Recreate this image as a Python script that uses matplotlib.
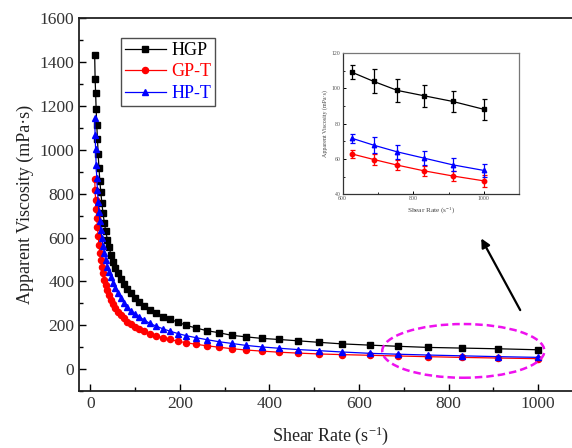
import matplotlib
matplotlib.use("Agg")
import matplotlib.pyplot as plt
from matplotlib.patches import Ellipse
from matplotlib.ticker import MultipleLocator

plt.rcParams['font.family'] = ['Liberation Serif', 'DejaVu Serif']
plt.rcParams['mathtext.fontset'] = 'custom'
plt.rcParams['mathtext.rm'] = 'Liberation Serif'
plt.rcParams['mathtext.it'] = 'Liberation Serif:italic'

# ---- data ----
shear_rate = [10, 11, 12.1, 13.3, 14.7, 16.2, 17.8, 19.6, 21.5, 23.7, 26.1, 28.7,
              31.6, 34.8, 38.3, 42.2, 46.4, 51.1, 56.2, 61.9, 68.1, 75, 82.5, 90.9,
              100, 110, 121, 133, 147, 162, 178, 196, 215, 237, 261, 287, 316, 348,
              383, 422, 464, 511, 562, 625, 688, 755, 830, 911, 1000]
hgp = [1434, 1322, 1260, 1185, 1112, 1051, 981, 917, 859, 807, 756, 710,
       667, 628, 591, 555, 521, 488, 459, 436, 413, 390, 367, 345,
       325, 305, 287, 269, 254, 239, 227, 214, 199, 187, 175, 166, 154, 147,
       140, 135, 129, 122, 115, 109.2, 103.9, 98.8, 95.8, 92.6, 88.1]
gpt = [868, 815, 770, 728, 688, 648, 605, 566, 530, 497, 465, 436,
       408, 383, 359, 338, 317, 297, 279, 262, 246, 231, 217, 204,
       193, 184, 172, 162, 152, 143, 135, 127, 120, 113, 106, 100, 93, 87,
       82, 77, 73, 69, 66, 62.9, 59.7, 56.5, 53.3, 50.4, 47.6]
hpt = [1145, 1068, 1002, 931, 870, 817, 763, 718, 676, 636, 598, 562,
       528, 496, 466, 445, 418, 392, 368, 345, 324, 303, 284, 266,
       252, 238, 223, 209, 196, 184, 173, 162, 152, 143, 134, 125, 117, 108,
       101, 95, 89, 84, 78, 71.8, 67.8, 64.0, 60.5, 56.7, 53.5]

inset_rate = [625, 688, 755, 830, 911, 1000]
hgp_inset = [109.2, 103.9, 98.8, 95.8, 92.6, 88.1]
hgp_err = [4.0, 6.8, 6.4, 6.3, 6.0, 5.8]
gpt_inset = [62.9, 59.7, 56.5, 53.3, 50.4, 47.6]
gpt_err = [2.2, 3.2, 3.0, 3.0, 2.7, 3.3]
hpt_inset = [71.8, 67.8, 64.0, 60.5, 56.7, 53.5]
hpt_err = [2.5, 4.6, 4.0, 4.0, 3.6, 3.5]

labels = ['HGP', 'GP-T', 'HP-T']
colors = ['black', 'red', 'blue']
markers = ['s', 'o', '^']

fig = plt.figure(figsize=(5.72, 4.48), dpi=100)
ax = fig.add_axes([0.1381, 0.1272, 0.881, 0.832])

series = [hgp, gpt, hpt]
msizes = [3.8, 4.4, 4.6]
for s, lab, c, m, ms in zip(series, labels, colors, markers, msizes):
    ax.plot(shear_rate, s, color=c, marker=m, markersize=ms, linewidth=0.9,
            label=lab)

ax.set_xlim(-25, 1100)
ax.set_ylim(-100, 1600)
ax.xaxis.set_major_locator(MultipleLocator(200))
ax.xaxis.set_minor_locator(MultipleLocator(100))
ax.yaxis.set_major_locator(MultipleLocator(200))
ax.yaxis.set_minor_locator(MultipleLocator(100))
ax.tick_params(which='major', direction='in', length=5, width=1.0,
               labelsize=12.5, labelcolor='#333333')
ax.tick_params(which='minor', direction='in', length=3, width=1.0)
for sp in ax.spines.values():
    sp.set_linewidth(1.3)
    sp.set_color('#222222')
ax.set_ylabel('Apparent Viscosity (mPa·s)', fontsize=13, color='#222222', labelpad=4)
ax.set_xlabel('Shear Rate (s$^{-1}$)', fontsize=13, color='#222222', labelpad=9)

leg = ax.legend(loc='upper left', bbox_to_anchor=(0.0833, 0.9463), borderaxespad=0,
                fontsize=13, frameon=True, fancybox=False, edgecolor='#222222',
                handlelength=2.3, handletextpad=0.3, labelspacing=0.25,
                borderpad=0.2)
leg.get_frame().set_linewidth(1.0)
for t, c in zip(leg.get_texts(), colors):
    t.set_color(c)

ell = Ellipse((833, 83), 362, 245, fill=False, edgecolor='#ee11ee',
              linestyle=(0, (3, 1.6)), linewidth=1.8, clip_on=False, zorder=5)
ax.add_patch(ell)

ax.annotate('', xy=(873, 596), xytext=(960, 269),
            arrowprops=dict(arrowstyle='-|>', color='black', lw=1.6,
                            mutation_scale=13, shrinkA=0, shrinkB=0))

# ---- inset ----
ins = fig.add_axes([0.5991, 0.5663, 0.3087, 0.3154])
ins_series = [(hgp_inset, hgp_err), (gpt_inset, gpt_err), (hpt_inset, hpt_err)]
for (v, e), c, m in zip(ins_series, colors, markers):
    ins.errorbar(inset_rate, v, yerr=e, color=c, marker=m, markersize=3.2,
                 linewidth=0.9, elinewidth=0.9, capsize=1.8, capthick=0.9)
ins.set_xlim(600, 1100)
ins.set_ylim(40, 120)
ins.xaxis.set_major_locator(MultipleLocator(200))
ins.xaxis.set_minor_locator(MultipleLocator(100))
ins.yaxis.set_major_locator(MultipleLocator(20))
ins.yaxis.set_minor_locator(MultipleLocator(10))
ins.tick_params(which='major', direction='in', length=2.2, width=0.7,
                labelsize=4.2, labelcolor='#555555', pad=1.5)
ins.tick_params(which='minor', direction='in', length=1.3, width=0.6)
for sp in ins.spines.values():
    sp.set_linewidth(0.9)
    sp.set_color('#333333')
ins.spines['top'].set_color('#777777')
ins.spines['right'].set_color('#777777')
ins.set_ylabel('Apparent Viscosity (mPa·s)', fontsize=4.3, color='#444444', labelpad=3)
ins.set_xlabel('Shear Rate (s$^{-1}$)', fontsize=5.2, color='#444444', labelpad=3)

fig.savefig('out.png', dpi=100)
